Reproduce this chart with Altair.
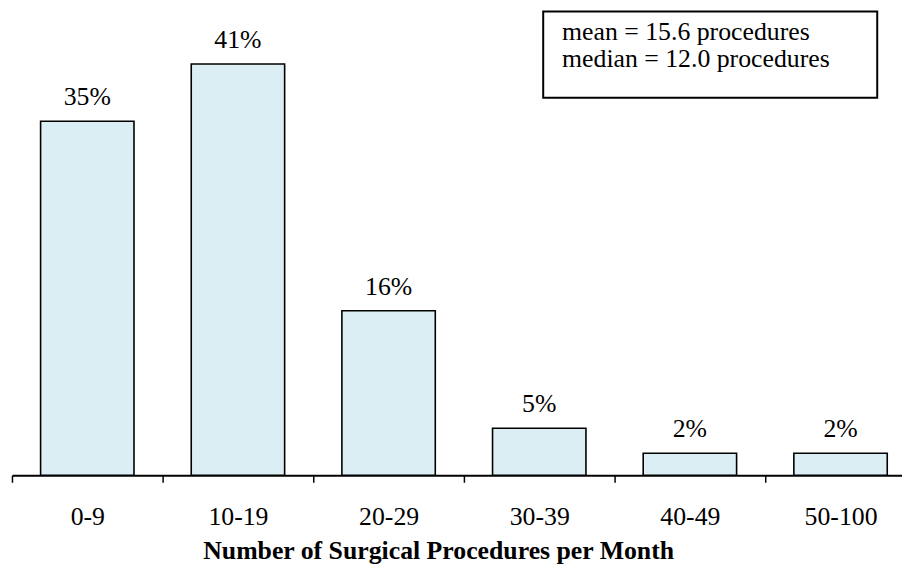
import altair as alt
import pandas as pd

categories = ["0-9", "10-19", "20-29", "30-39", "40-49", "50-100"]
percents = [35.3, 41.0, 16.4, 4.7, 2.2, 2.2]
stats_lines = ["mean = 15.6 procedures", "median = 12.0 procedures"]
x_title = "Number of Surgical Procedures per Month"

FONT = "Liberation Serif, Times New Roman, serif"

df = pd.DataFrame({"cat": categories, "value": percents})

xenc = alt.X(
    "cat:N",
    sort=categories,
    scale=alt.Scale(type="band", range=[0, 912], paddingInner=0, paddingOuter=0),
    axis=alt.Axis(
        title=x_title,
        labelAngle=0,
        tickBand="extent",
        domainColor="black",
        domainWidth=2,
        tickColor="black",
        tickWidth=1.5,
        tickSize=7,
        labelFont=FONT,
        labelFontSize=26,
        labelColor="black",
        labelBaseline="alphabetic",
        labelPadding=43,
        titleFont=FONT,
        titleFontSize=26,
        titleFontWeight="bold",
        titleColor="black",
        titleBaseline="alphabetic",
        titleAlign="center",
        titleX=430,
        titleY=84,
    ),
)
yenc = alt.Y("value:Q", scale=alt.Scale(domain=[0, 46.34], nice=False), axis=None)

base = alt.Chart(df)

bars = base.mark_bar(
    fill="#DBEEF3", stroke="black", strokeWidth=1.6, width=alt.RelativeBandSize(0.62)
).encode(x=xenc, y=yenc)

labels = base.transform_calculate(
    label="format(datum.value, '.0f') + '%'"
).mark_text(
    dy=-16, baseline="alphabetic", font=FONT, fontSize=26, color="black"
).encode(x=alt.X("cat:N", sort=categories), y="value:Q", text="label:N")

one = alt.Chart(pd.DataFrame({"k": [0]}))

box = one.mark_rect(fill="white", stroke="black", strokeWidth=2).encode(
    x=alt.value(536), x2=alt.value(873), y=alt.value(1), y2=alt.value(88)
)

box_text = one.mark_text(
    align="left", baseline="alphabetic", font=FONT, fontSize=26, color="black", lineHeight=27
).encode(x=alt.value(555), y=alt.value(30), text=alt.value(stats_lines))

chart = (
    alt.layer(bars, labels, box, box_text)
    .properties(
        width=898,
        height=469,
        autosize=alt.AutoSizeParams(type="none"),
        padding={"left": 4, "top": 0, "right": 0, "bottom": 91},
        background="white",
    )
    .configure_view(stroke=None)
)

chart.save("out.html", embed_options={"renderer": "svg", "actions": False})
